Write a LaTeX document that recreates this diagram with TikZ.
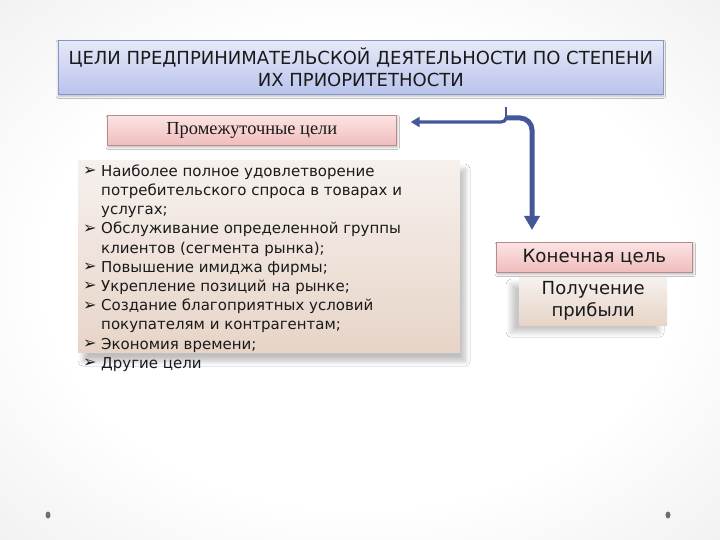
\documentclass[tikz,border=0pt]{standalone}
\usepackage{fontspec}
\setmainfont{DejaVu Sans}
\newfontfamily\serifcyr{Liberation Serif}
\usetikzlibrary{arrows.meta, positioning, shadows, shadows.blur, calc}
\definecolor{pipeblue}{HTML}{43579A}
\definecolor{titline}{HTML}{8796C4}
\definecolor{tittop}{HTML}{E6E9F8}
\definecolor{titbot}{HTML}{B9C3EC}
\definecolor{pinkline}{HTML}{B98A8C}
\definecolor{pinktop}{HTML}{FCE4E4}
\definecolor{pinkbot}{HTML}{F0BCBC}
\definecolor{beigetop}{HTML}{F6F1EE}
\definecolor{beigebot}{HTML}{E7D4C7}
\definecolor{txt}{HTML}{1A1A1A}
\definecolor{dotgray}{HTML}{6E6E6E}
\pgfdeclareradialshading{slidebg}{\pgfpoint{0bp}{0bp}}{color(0bp)=(white);
  color(22bp)=(white); color(40bp)=(black!7); color(50bp)=(black!17);
  color(71bp)=(black!26)}
\newcommand\blt{\makebox[18pt][l]{\raisebox{0.5pt}{\fontsize{16}{16}\selectfont ➢}}}
\tikzset{
  tit/.style = {draw=titline, top color=tittop, bottom color=titbot,
    text=txt, inner sep=0pt, line width=0.7pt, align=center,
    font=\fontsize{18}{22}\selectfont,
    blur shadow={shadow xshift=0pt, shadow yshift=-2pt,
      shadow blur steps=4, shadow opacity=25}},
  pbox/.style = {draw=pinkline, top color=pinktop, bottom color=pinkbot,
    text=txt, inner sep=0pt, line width=0.7pt,
    blur shadow={shadow xshift=1pt, shadow yshift=-2pt,
      shadow blur steps=4, shadow opacity=25}},
  bbox/.style = {top color=beigetop, bottom color=beigebot, text=txt,
    inner sep=0pt},
  pipe/.style = {-{Triangle[width=15pt, length=14pt]}, line width=5pt,
    draw=pipeblue, rounded corners=12pt},
  seta/.style = {-{Triangle[width=10pt, length=9pt]}, line width=3.2pt,
    draw=pipeblue},
  stub/.style = {line width=2pt, draw=pipeblue}
}

\begin{document}
\begin{tikzpicture}[x=1pt, y=-1pt]
  \useasboundingbox (0,0) rectangle (720,540);
  \shade [shading=slidebg] (0,0) rectangle (720,540);
  \fill [dotgray] (48,515) ellipse [x radius=2.5, y radius=3.5];
  \fill [dotgray] (668,515) ellipse [x radius=2.5, y radius=3.5];

  \node [tit, anchor=north west, minimum width=605pt, minimum height=54pt]
    (title) at (58,40)
    {ЦЕЛИ ПРЕДПРИНИМАТЕЛЬСКОЙ ДЕЯТЕЛЬНОСТИ ПО СТЕПЕНИ\\ИХ ПРИОРИТЕТНОСТИ};
  \node [pbox, anchor=north west, minimum width=289pt, minimum height=30pt,
    font=\serifcyr\fontsize{18.4}{21}\selectfont] (interm) at (107,115)
    {Промежуточные цели};

  % list of intermediate goals
  \node [bbox, anchor=north west, minimum width=382pt, minimum height=192pt,
    blur shadow={shadow xshift=5pt, shadow yshift=-9pt,
      shadow blur radius=5pt, shadow blur steps=10, shadow opacity=25}]
    (goals) at (78,160) {};
  \node [anchor=north west, inner sep=0pt, text=txt,
    font=\fontsize{15}{19.2}\selectfont] (goalstext) at (83,162.6) {%
    \begin{tabular}{@{}l@{}l@{}}
      \blt & Наиболее полное удовлетворение\\
           & потребительского спроса в товарах и\\
           & услугах;\\
      \blt & Обслуживание определенной группы\\
           & клиентов (сегмента рынка);\\
      \blt & Повышение имиджа фирмы;\\
      \blt & Укрепление позиций на рынке;\\
      \blt & Создание благоприятных условий\\
           & покупателям и контрагентам;\\
      \blt & Экономия времени;\\
      \blt & Другие цели
    \end{tabular}};

  \node [pbox, anchor=north west, minimum width=196pt, minimum height=30pt,
    font=\fontsize{18.2}{21}\selectfont] (final) at (496,242) {Конечная цель};
  \node [bbox, anchor=north west, minimum width=148pt, minimum height=48pt,
    align=center, font=\fontsize{18}{22}\selectfont,
    blur shadow={shadow xshift=-8pt, shadow yshift=-7pt,
      shadow blur radius=5pt, shadow blur steps=8, shadow opacity=22}]
    (profit) at (519,277) {Получение\\прибыли};

  % connectors
  \coordinate (hook) at (506,107);
  \coordinate (jn) at (506,118);
  \coordinate (bend) at (532,118);
  \coordinate (lt) at (501,122);
  \draw [stub] (hook) -- (jn);
  \draw [seta, shorten >=14pt] (jn) to[out=270, in=0] (lt) -- (lt -| interm.east);
  \draw [pipe, shorten >=12pt] (jn) -- (bend) -- (bend |- final.north);
\end{tikzpicture}
\end{document}
